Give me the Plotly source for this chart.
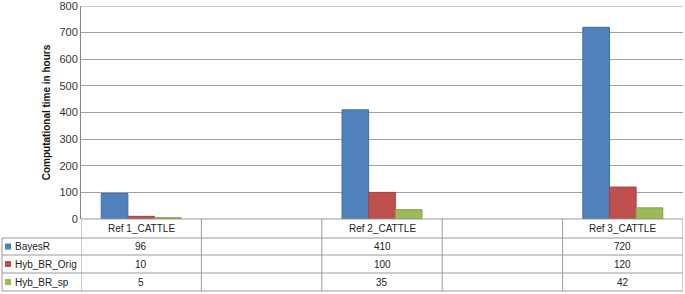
import plotly.graph_objects as go

categories = ["Ref 1_CATTLE", " ", "Ref 2_CATTLE", "  ", "Ref 3_CATTLE"]
series_names = ["BayesR", "Hyb_BR_Orig", "Hyb_BR_sp"]
bayesr = [96, None, 410, None, 720]
hyb_br_orig = [10, None, 100, None, 120]
hyb_br_sp = [5, None, 35, None, 42]
y_ticks = [0, 100, 200, 300, 400, 500, 600, 700, 800]
colors = ["#4F81BD", "#C0504D", "#9BBB59"]
edge_colors = ["#3F6EA6", "#A8403D", "#83A348"]

W, H = 685, 294
L, R, T, B = 81, 2, 6, 75
ph = H - T - B
pw = W - L - R


def py(p):
    return (H - B - p) / ph


def px(p):
    return (p - L) / pw


fig = go.Figure()
for name, vals, c, ec in zip(series_names, [bayesr, hyb_br_orig, hyb_br_sp], colors, edge_colors):
    fig.add_trace(go.Bar(x=categories, y=vals, name=name, marker=dict(color=c, line=dict(color=ec, width=1)),
                         showlegend=False, hoverinfo="skip"))

font = "Liberation Sans"
grid = "#A0A0A0"
border = "#9A9A9A"
shapes = []
annotations = []

n = len(categories)
# top gridline (at the last tick) drawn explicitly so it is not dropped at the plot edge
shapes.append(dict(type="line", xref="x", yref="y", x0=-0.5, x1=n - 0.5, y0=y_ticks[-1], y1=y_ticks[-1],
                   line=dict(color=grid, width=1), layer="below"))

rows = [219, 238, 255, 273, 291]
shapes.append(dict(type="line", xref="x", yref="paper", x0=-0.5, x1=n - 0.5, y0=py(rows[0]), y1=py(rows[0]),
                   line=dict(color=border, width=1)))
for r in rows[1:]:
    shapes.append(dict(type="line", xref="paper", yref="paper", x0=px(2), x1=1, y0=py(r), y1=py(r),
                       line=dict(color=border, width=1)))
shapes.append(dict(type="line", xref="paper", yref="paper", x0=px(2), x1=px(2), y0=py(rows[1]), y1=py(rows[-1]),
                   line=dict(color=border, width=1)))
for k in range(n + 1):
    xv = k - 0.5
    shapes.append(dict(type="line", xref="x", yref="paper", x0=xv, x1=xv, y0=py(rows[0]), y1=py(rows[-1]),
                       line=dict(color=border, width=1)))

for i, c in enumerate(categories):
    annotations.append(dict(x=i, y=py((rows[0] + rows[1]) / 2), xref="x", yref="paper", text=c.strip(),
                            showarrow=False, xanchor="center", yanchor="middle",
                            font=dict(family=font, size=10, color="#222")))

for s, (name, vals, c) in enumerate(zip(series_names, [bayesr, hyb_br_orig, hyb_br_sp], colors)):
    ymid = (rows[s + 1] + rows[s + 2]) / 2
    shapes.append(dict(type="rect", xref="paper", yref="paper", x0=px(5), x1=px(11), y0=py(ymid + 3), y1=py(ymid - 3),
                       fillcolor=c, line=dict(width=0)))
    annotations.append(dict(x=px(13), y=py(ymid), xref="paper", yref="paper", text=name, showarrow=False,
                            xanchor="left", yanchor="middle", font=dict(family=font, size=10, color="#222")))
    for i, v in enumerate(vals):
        if v is None:
            continue
        annotations.append(dict(x=i, y=py(ymid), xref="x", yref="paper", text=str(v), showarrow=False,
                                xanchor="center", yanchor="middle",
                                font=dict(family=font, size=10, color="#222")))

fig.update_layout(
    width=W, height=H,
    margin=dict(l=L, r=R, t=T, b=B, autoexpand=False),
    paper_bgcolor="white", plot_bgcolor="white",
    barmode="group", bargap=0.336, bargroupgap=0,
    shapes=shapes, annotations=annotations,
    xaxis=dict(range=[-0.5, n - 0.5], showticklabels=False, showgrid=False, zeroline=False, showline=False,
               ticks=""),
    yaxis=dict(range=[0, 800], tickmode="array", tickvals=y_ticks, showgrid=True, gridcolor=grid, gridwidth=1,
               zeroline=False, showline=True, linecolor="#868686", linewidth=1, ticks="",
               ticklabeloverflow="allow",
               tickfont=dict(family=font, size=11, color="#333"),
               title=dict(text="<b>Computational time in hours</b>", standoff=6,
                          font=dict(family=font, size=10, color="#111"))),
)

fig.write_html("out.html", config={"displayModeBar": False},
               post_script="document.body.style.margin='0';document.body.style.padding='0';")
